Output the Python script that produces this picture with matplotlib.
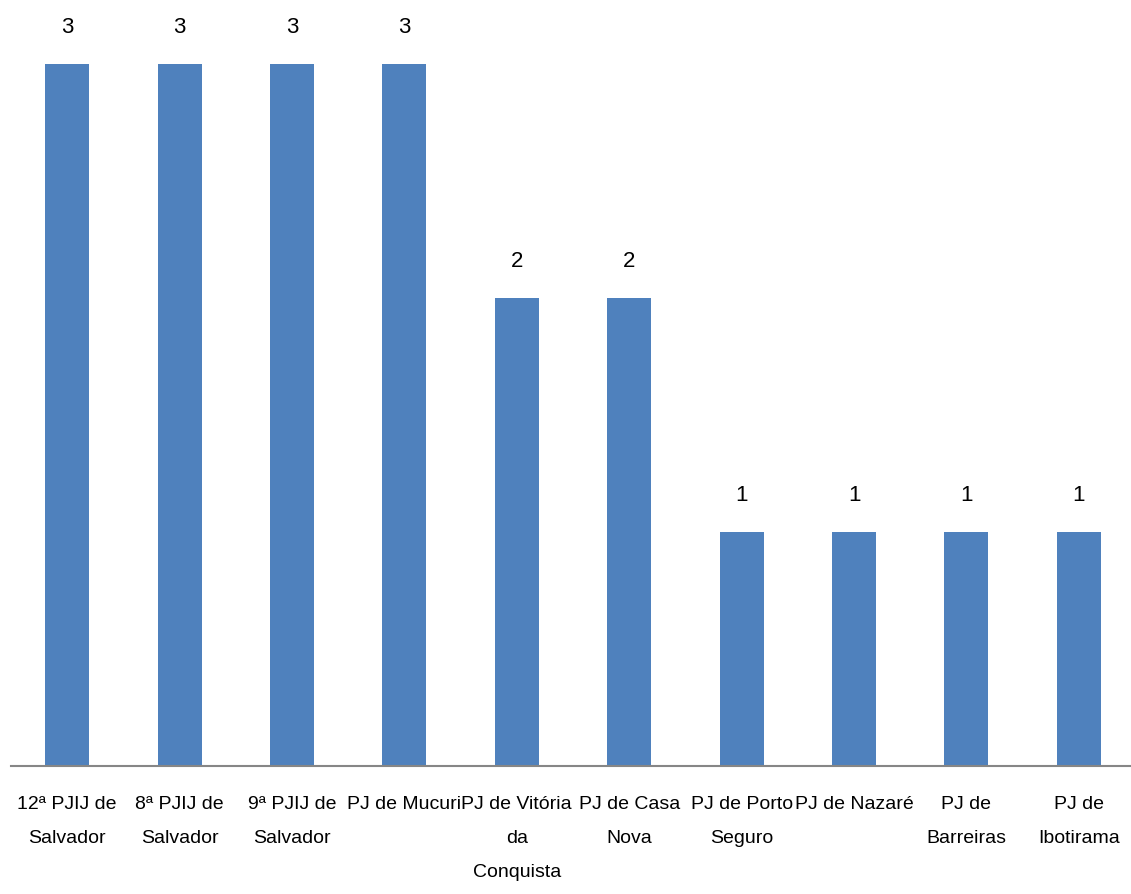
import matplotlib
matplotlib.use("Agg")
import matplotlib.pyplot as plt
from matplotlib import font_manager

# ── dados ──
categorias = [
    "12ª PJIJ de\nSalvador",
    "8ª PJIJ de\nSalvador",
    "9ª PJIJ de\nSalvador",
    "PJ de Mucuri",
    "PJ de Vitória\nda\nConquista",
    "PJ de Casa\nNova",
    "PJ de Porto\nSeguro",
    "PJ de Nazaré",
    "PJ de\nBarreiras",
    "PJ de\nIbotirama",
]
valores = [3, 3, 3, 3, 2, 2, 1, 1, 1, 1]

# fonte estreita, se houver
nomes = {f.name for f in font_manager.fontManager.ttflist}
fam = "Liberation Sans"
for cand in ["Liberation Sans Narrow", "DejaVu Sans Condensed"]:
    if cand in nomes:
        fam = cand
        break
plt.rcParams["font.family"] = [fam, "DejaVu Sans"]

W, H = 1131, 895
fig = plt.figure(figsize=(W / 100, H / 100), dpi=100)
# eixo: linha base em y=767 px, de x~11 até além da borda direita
ax = fig.add_axes([11 / W, (H - 767) / H, 1124 / W, 767 / H])

x = range(len(categorias))
ax.bar(x, valores, width=0.39, color="#4F81BD", zorder=2)
for xi, v in zip(x, valores):
    ax.text(xi, v + 0.135, str(v), ha="center", va="baseline", fontsize=16, color="black")

ax.set_xlim(-0.5, len(categorias) - 0.5)
ax.set_ylim(0, 767 / 234)
ax.set_xticks(list(x))
ax.set_xticklabels(categorias, fontsize=14, linespacing=2.3, va="top")
ax.tick_params(axis="x", length=0, pad=21)
ax.set_yticks([])
for s in ["top", "right", "left"]:
    ax.spines[s].set_visible(False)
ax.spines["bottom"].set_color("#868686")
ax.spines["bottom"].set_linewidth(1.5)

fig.savefig("out.png", dpi=100)
